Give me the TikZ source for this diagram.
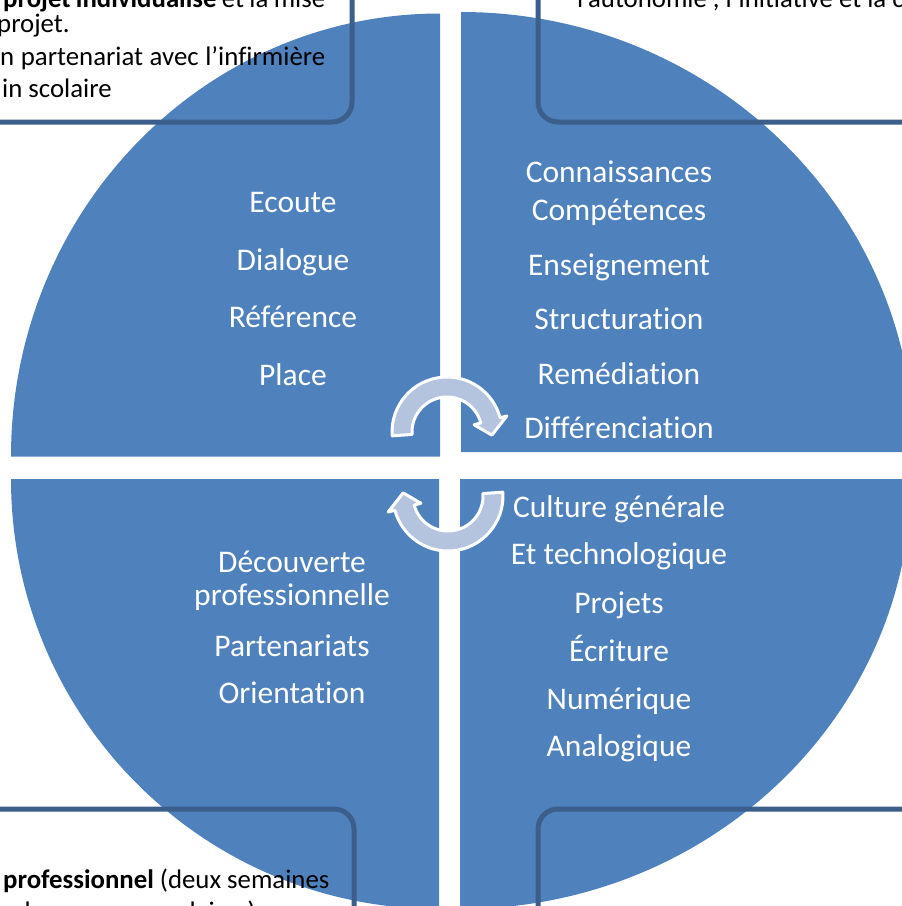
\documentclass[tikz,border=0pt]{standalone}
\usepackage{fontspec}
\setmainfont{Carlito}[Ligatures=NoCommon]
\definecolor{quadblue}{RGB}{79,129,189}
\definecolor{boxedge}{RGB}{59,94,138}
\definecolor{arrowblue}{RGB}{180,196,222}

\begin{document}
\begin{tikzpicture}[x=1pt, y=1pt,
    quad/.style={fill=quadblue},
    boxline/.style={draw=boxedge, line width=5pt, rounded corners=20pt},
    quadtxt/.style={text=white, anchor=base, inner sep=0pt, font=\fontsize{31.5}{38}\selectfont},
    boxtxt/.style={text=black, inner sep=0pt, font=\fontsize{26.8}{32}\selectfont},
    cyclearrow/.pic={
        \filldraw[fill=arrowblue, draw=white, line width=3pt, line join=round]
            (184:55) arc[start angle=184, end angle=15, radius=55] -- (15:62) -- (-4:45)
            -- (15:28) -- (15:35) arc[start angle=15, end angle=184, radius=35] -- cycle;
    }]
    \useasboundingbox (0,0) rectangle (902,-906);
    \clip (0,0) rectangle (902,-906);

    % the four quarters
    \fill[quad] (440,-456.5) -- (11,-456.5) arc[start angle=180, end angle=90, x radius=429, y radius=443] -- cycle;
    \fill[quad] (461,-452) -- (461,-12) arc[start angle=90, end angle=0, x radius=453, y radius=440] -- cycle;
    \fill[quad] (439,-479) -- (11,-479) arc[start angle=180, end angle=270, x radius=428, y radius=430] -- cycle;
    \fill[quad] (460,-479) -- (911,-479) arc[start angle=0, end angle=-90, x radius=451, y radius=430] -- cycle;

    % cycle arrows
    \pic at (447,-432) {cyclearrow};
    \pic[rotate=180] at (448,-496) {cyclearrow};

    % corner boxes
    \draw[boxline] (-40,40) rectangle (352,-122);
    \draw[boxline] (538,-122) rectangle (950,40);
    \draw[boxline] (-40,-809) rectangle (354,-950);
    \draw[boxline] (538,-809) rectangle (950,-950);

    % box texts
    \node[boxtxt, anchor=base west] (ulA) at (3,-7) {\makebox[322pt][s]{\textbf{projet individualisé} et la mise}};
    \node[boxtxt, anchor=base west] (ulB) at (-3,-32) {projet.};
    \node[boxtxt, anchor=base west] (ulC) at (0,-65) {\makebox[325pt][s]{n partenariat avec l’infirmière}};
    \node[boxtxt, anchor=base west] (ulD) at (2,-97) {in scolaire};
    \node[boxtxt, anchor=base west] (urA) at (577,-7) {l’autonomie , l’initiative et la c};
    \node[boxtxt, anchor=base west] (llA) at (3,-888) {\textbf{professionnel} (deux semaines};
    \node[boxtxt, anchor=base west] (llB) at (-3,-920) {e de vacances scolaires) en};

    % upper left
    \node[quadtxt] (ecoute) at (293,-212) {Ecoute};
    \node[quadtxt] (dialogue) at (293,-270) {Dialogue};
    \node[quadtxt] (reference) at (293,-327) {Référence};
    \node[quadtxt] (place) at (293,-385) {Place};
    % upper right
    \node[quadtxt] (connaiss) at (619,-182) {Connaissances};
    \node[quadtxt] (compet) at (619,-220) {Compétences};
    \node[quadtxt] (enseign) at (619,-275) {Enseignement};
    \node[quadtxt] (struct) at (619,-329) {Structuration};
    \node[quadtxt] (remed) at (619,-384) {Remédiation};
    \node[quadtxt] (differ) at (619,-438) {Différenciation};
    % lower left
    \node[quadtxt] (decouv) at (292,-572) {Découverte};
    \node[quadtxt] (profess) at (292,-605) {professionnelle};
    \node[quadtxt] (parten) at (292,-656) {Partenariats};
    \node[quadtxt] (orient) at (292,-703) {Orientation};
    % lower right
    \node[quadtxt] (culture) at (619,-517) {Culture générale};
    \node[quadtxt] (techno) at (619,-564) {Et technologique};
    \node[quadtxt] (projets) at (619,-613) {Projets};
    \node[quadtxt] (ecrit) at (619,-661) {Écriture};
    \node[quadtxt] (numer) at (619,-709) {Numérique};
    \node[quadtxt] (analog) at (619,-756) {Analogique};
\end{tikzpicture}
\end{document}
